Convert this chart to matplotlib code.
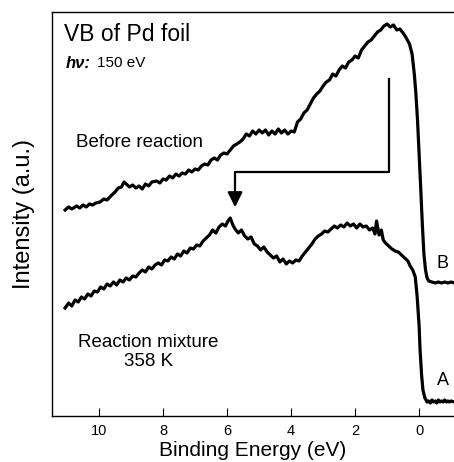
import matplotlib
matplotlib.use("Agg")
import matplotlib.pyplot as plt

plt.rcParams["font.family"] = ["Liberation Sans", "DejaVu Sans"]

# Before reaction (B): binding energy (eV) and intensity (a.u.)
be_b = [11.06, 10.95, 10.85, 10.7, 10.6, 10.5, 10.4, 10.3, 10.2, 10.1, 9.97, 9.85,
        9.75, 9.6, 9.5, 9.4, 9.3, 9.22, 9.15, 9.05, 8.95, 8.85, 8.75, 8.65, 8.55,
        8.45, 8.35, 8.2, 8.1, 8.0, 7.9, 7.8, 7.7, 7.6, 7.5, 7.4, 7.3, 7.2, 7.1, 7.0,
        6.9, 6.8, 6.7, 6.6, 6.5, 6.4, 6.3, 6.2, 6.1, 6.0, 5.9, 5.8, 5.7, 5.6, 5.5,
        5.4, 5.3, 5.2, 5.1, 5.0, 4.9, 4.8, 4.7, 4.6, 4.5, 4.4, 4.3, 4.2, 4.1, 4.0,
        3.9, 3.8, 3.7, 3.6, 3.5, 3.4, 3.3, 3.2, 3.1, 3.0, 2.9, 2.8, 2.7, 2.6, 2.5,
        2.4, 2.3, 2.2, 2.1, 2.0, 1.9, 1.8, 1.7, 1.6, 1.5, 1.4, 1.3, 1.2, 1.1, 1.0,
        0.9, 0.8, 0.7, 0.6, 0.5, 0.4, 0.3, 0.22, 0.15, 0.1, 0.05, 0.0, -0.05, -0.1,
        -0.15, -0.2, -0.25, -0.3, -0.4, -0.5, -0.6, -0.7, -0.8, -0.9, -1.0, -1.1]
int_b = [206, 209, 207, 210, 208, 211, 209, 212, 211, 213, 214, 217,
         216, 221, 224, 228, 229, 234, 232, 229, 231, 228, 230, 227, 232,
         230, 234, 235, 233, 237, 236, 240, 238, 242, 240, 243, 242, 246, 244, 247,
         246, 250, 252, 251, 256, 258, 256, 261, 263, 262, 266, 270, 272, 274, 277,
         282, 280, 285, 282, 286, 283, 286, 281, 285, 282, 287, 283, 286, 282, 285,
         284, 294, 297, 303, 306, 312, 318, 322, 325, 330, 334, 336, 342, 340, 346,
         350, 348, 354, 356, 360, 358, 366, 370, 374, 376, 380, 384, 386, 390, 392,
         389, 391, 386, 387, 383, 378, 372, 362, 342, 322, 296, 262, 228, 192,
         162, 146, 138, 135, 134, 133, 134, 133, 134, 133, 134, 133]

# Reaction mixture 358 K (A)
be_a = [11.06, 10.95, 10.85, 10.75, 10.65, 10.55, 10.45, 10.35, 10.25, 10.15, 10.05,
        9.95, 9.85, 9.75, 9.65, 9.55, 9.45, 9.35, 9.25, 9.15, 9.05, 8.95, 8.85, 8.75,
        8.65, 8.55, 8.45, 8.35, 8.25, 8.15, 8.05, 7.95, 7.85, 7.75, 7.65, 7.55, 7.45,
        7.35, 7.25, 7.15, 7.05, 6.95, 6.85, 6.75, 6.65, 6.55, 6.45, 6.35, 6.25, 6.15,
        6.05, 5.97, 5.9, 5.82, 5.75, 5.65, 5.55, 5.45, 5.35, 5.25, 5.15, 5.05, 4.95,
        4.85, 4.75, 4.65, 4.55, 4.45, 4.35, 4.25, 4.15, 4.05, 3.95, 3.85, 3.75, 3.65,
        3.55, 3.45, 3.35, 3.25, 3.15, 3.05, 2.95, 2.85, 2.75, 2.65, 2.55, 2.45, 2.35,
        2.25, 2.15, 2.05, 1.95, 1.85, 1.75, 1.65, 1.55, 1.45, 1.38, 1.33, 1.25, 1.18,
        1.12, 1.05, 0.95, 0.85, 0.75, 0.65, 0.55, 0.45, 0.35, 0.28, 0.2, 0.12, 0.06,
        0.0, -0.03, -0.08, -0.12, -0.18, -0.25, -0.3, -0.35, -0.4, -0.45, -0.5, -0.55,
        -0.6, -0.65, -0.7, -0.75, -0.8, -0.85, -0.9, -0.95, -1.0, -1.1]
int_a = [108, 113, 110, 116, 114, 119, 117, 122, 120, 125, 124,
         129, 127, 132, 130, 134, 131, 136, 134, 138, 136, 140, 139, 143,
         146, 144, 149, 147, 151, 153, 151, 156, 155, 159, 157, 162, 160,
         165, 163, 168, 167, 171, 170, 175, 178, 181, 186, 183, 189, 192,
         190, 195, 198, 191, 187, 183, 186, 180, 177, 179, 172, 170, 166,
         169, 164, 161, 158, 160, 154, 157, 152, 155, 153, 156, 155, 160,
         164, 168, 172, 177, 180, 182, 185, 184, 187, 190, 188, 191, 189,
         193, 190, 192, 188, 192, 189, 190, 186, 188, 182, 195, 181, 186,
         176, 173, 170, 167, 165, 164, 161, 158, 155, 150, 146, 139, 119,
         90, 66, 40, 26, 18, 14, 15, 13, 16, 14, 15, 13,
         16, 14, 15, 14, 16, 14, 15, 14, 15, 14]

xticks = [10, 8, 6, 4, 2, 0]

fig = plt.figure(figsize=(4.54, 4.62), dpi=100)
ax = fig.add_axes([0.1145, 0.0996, 0.8855, 0.8744])

ax.plot(be_b, int_b, color="black", lw=2.3)
ax.plot(be_a, int_a, color="black", lw=2.3)

# bracket arrow from B to A peak
ax.plot([0.94, 0.94, 5.75, 5.75], [337, 244, 244, 220], color="black", lw=1.6)
ax.annotate("", xy=(5.75, 206), xytext=(5.75, 222),
            arrowprops=dict(arrowstyle="-|>,head_width=0.45,head_length=0.9",
                            color="black", lw=1.6))

ax.set_xlim(11.47, -1.09)
ax.set_ylim(0, 404)
ax.set_xticks(xticks)
ax.set_xticklabels([str(t) for t in xticks], fontsize=10.5)
ax.tick_params(axis="x", direction="in", length=6, width=0.8, pad=6)
ax.set_yticks([])
ax.spines["right"].set_visible(False)
for s in ["left", "top", "bottom"]:
    ax.spines[s].set_linewidth(1.0)

ax.set_xlabel("Binding Energy (eV)", fontsize=15, labelpad=2)
ax.set_ylabel("Intensity (a.u.)", fontsize=17, labelpad=12)

ax.text(0.03, 0.945, "VB of Pd foil", transform=ax.transAxes, fontsize=16.5, va="center")
ax.text(0.033, 0.873, "hν:", transform=ax.transAxes, fontsize=12,
        style="italic", weight="bold", va="center")
ax.text(0.112, 0.873, "150 eV", transform=ax.transAxes, fontsize=11, va="center")
ax.text(0.06, 0.677, "Before reaction", transform=ax.transAxes, fontsize=13.5, va="center")
ax.text(0.24, 0.158, "Reaction mixture\n358 K", transform=ax.transAxes, fontsize=13.5,
        va="center", ha="center", linespacing=1.15)
ax.text(0.972, 0.378, "B", transform=ax.transAxes, fontsize=13, va="center", ha="center")
ax.text(0.972, 0.088, "A", transform=ax.transAxes, fontsize=13, va="center", ha="center")

fig.savefig("out.png", dpi=100)
